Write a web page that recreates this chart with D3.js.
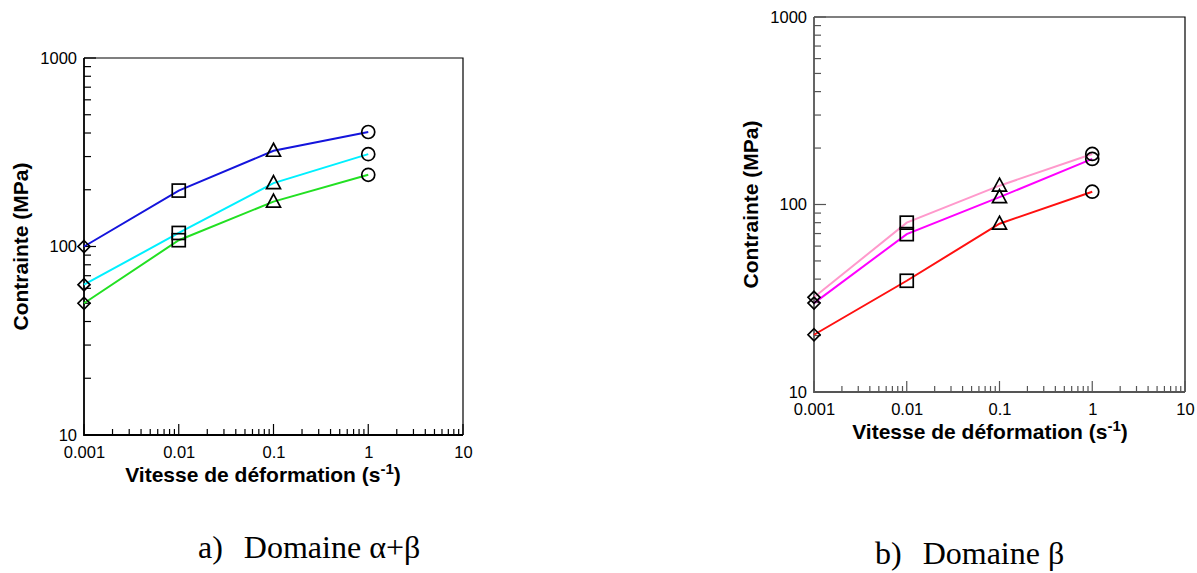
<!DOCTYPE html>
<html><head><meta charset="utf-8">
<script src="https://cdn.jsdelivr.net/npm/d3@7/dist/d3.min.js"></script>
<style>
body{margin:0;background:#fff;}
svg{display:block;}
</style></head>
<body>
<svg id="chart" width="1197" height="573" font-family="Liberation Sans, Arial, sans-serif"></svg>
<script>
// ---- data ----
const strainRates = [0.001, 0.01, 0.1, 1];
const markerShapes = ["diamond", "square", "triangle", "circle"];
const xTickValues = [0.001, 0.01, 0.1, 1, 10];
const xTickLabels = ["0.001", "0.01", "0.1", "1", "10"];
const yTickValues = [10, 100, 1000];
const yTickLabels = ["10", "100", "1000"];

// Chart a) Domaine α+β
const alphaBetaBlue  = [100, 198, 322, 405];
const alphaBetaCyan  = [62.7, 118, 217, 309];
const alphaBetaGreen = [50, 108, 173, 240];
// Chart b) Domaine β
const betaPink    = [32, 80, 126, 186];
const betaMagenta = [29.8, 69.5, 109.5, 175];
const betaRed     = [20.2, 39.2, 79, 117];

const yTitle = "Contrainte (MPa)";
const xTitleMain = "Vitesse de déformation (s";
const xTitleSup = "-1";
const captionA = ["a)", "Domaine α+β"];
const captionB = ["b)", "Domaine β"];

const svg = d3.select("#chart");

function marker(g, shape, x, y) {
  let el;
  if (shape === "circle") {
    el = g.append("circle").attr("cx", x).attr("cy", y).attr("r", 6.5);
  } else if (shape === "square") {
    el = g.append("rect").attr("x", x - 6.5).attr("y", y - 6.5).attr("width", 13).attr("height", 13);
  } else if (shape === "triangle") {
    el = g.append("path").attr("d", `M${x},${y - 7.5}L${x + 7},${y + 5.5}L${x - 7},${y + 5.5}Z`);
  } else {
    el = g.append("path").attr("d", `M${x},${y - 6}L${x + 6},${y}L${x},${y + 6}L${x - 6},${y}Z`);
  }
  el.attr("fill", "none").attr("stroke", "#000").attr("stroke-width", 1.7);
}

function drawChart(cfg) {
  const {left, top, right, bottom, series, axisColor} = cfg;
  const x = d3.scaleLog().domain([0.001, 10]).range([left, right]);
  const y = d3.scaleLog().domain([10, 1000]).range([bottom, top]);
  const g = svg.append("g");

  // frame (top/right)
  g.append("path").attr("d", `M${left},${top}H${right}V${bottom}`)
    .attr("fill", "none").attr("stroke", "#000").attr("stroke-width", 1.2);

  // minor ticks
  const minorX = [];
  for (let d = 0.001; d < 10; d *= 10) for (let k = 2; k <= 9; k++) minorX.push(+(d * k).toPrecision(3));
  const minorY = [];
  for (let d = 10; d < 1000; d *= 10) for (let k = 2; k <= 9; k++) minorY.push(d * k);

  const xAxis = d3.axisBottom(x).tickValues(xTickValues).tickFormat((d, i) => xTickLabels[i]).tickSize(0).tickPadding(11);
  const xa = g.append("g").attr("transform", `translate(0,${bottom})`).call(xAxis);
  xa.select(".domain").remove();
  xa.attr("font-family", null).attr("font-size", 16.5);
  xa.selectAll("text").attr("fill", "#000");

  const yAxis = d3.axisLeft(y).tickValues(yTickValues).tickFormat((d, i) => yTickLabels[i]).tickSize(0).tickPadding(7);
  const ya = g.append("g").attr("transform", `translate(${left},0)`).call(yAxis);
  ya.select(".domain").remove();
  ya.attr("font-family", null).attr("font-size", 16.5);
  ya.selectAll("text").attr("fill", "#000");

  // inward ticks
  const tk = g.append("g").attr("stroke", axisColor).attr("stroke-width", 1.2);
  xTickValues.forEach(v => tk.append("line").attr("x1", x(v)).attr("x2", x(v)).attr("y1", bottom).attr("y2", bottom - 11));
  minorX.forEach(v => tk.append("line").attr("x1", x(v)).attr("x2", x(v)).attr("y1", bottom).attr("y2", bottom - 6));
  yTickValues.forEach(v => tk.append("line").attr("y1", y(v)).attr("y2", y(v)).attr("x1", left).attr("x2", left + 12));
  minorY.forEach(v => tk.append("line").attr("y1", y(v)).attr("y2", y(v)).attr("x1", left).attr("x2", left + 7));

  // axis lines (left, bottom)
  g.append("path").attr("d", `M${left},${top}V${bottom}H${right}`)
    .attr("fill", "none").attr("stroke", axisColor).attr("stroke-width", 1.8);

  // series lines
  const line = d3.line().x((d, i) => x(strainRates[i])).y(d => y(d));
  series.forEach(s => {
    g.append("path").datum(s.values).attr("d", line)
      .attr("fill", "none").attr("stroke", s.color).attr("stroke-width", 2);
  });
  series.forEach(s => {
    s.values.forEach((v, i) => marker(g, markerShapes[i], x(strainRates[i]), y(v)));
  });

  // axis titles
  const cy = (top + bottom) / 2;
  g.append("text").attr("transform", `translate(${left - 56},${cy}) rotate(-90)`)
    .attr("text-anchor", "middle").attr("font-weight", "bold").attr("font-size", 21).text(yTitle);
  const xt = g.append("text").attr("x", cfg.xTitleX).attr("y", bottom + 47)
    .attr("text-anchor", "middle").attr("font-weight", "bold").attr("font-size", 21);
  xt.append("tspan").text(xTitleMain);
  xt.append("tspan").attr("dy", -8).attr("font-size", 15).text(xTitleSup);
  xt.append("tspan").attr("dy", 8).text(")");

  // caption
  const cap = svg.append("text").attr("x", cfg.capX).attr("y", cfg.capY)
    .attr("font-family", "Liberation Serif, Times New Roman, serif").attr("font-size", 32);
  cap.append("tspan").text(cfg.caption[0]);
  cap.append("tspan").attr("dx", 21).text(cfg.caption[1]);
}

drawChart({
  left: 84, top: 58, right: 463, bottom: 435, axisColor: "#000",
  xTitleX: 263, capX: 198, capY: 558, caption: captionA,
  series: [
    {values: alphaBetaBlue, color: "#1414dc"},
    {values: alphaBetaCyan, color: "#00f0ff"},
    {values: alphaBetaGreen, color: "#22e022"}
  ]
});
drawChart({
  left: 814, top: 17, right: 1185, bottom: 392, axisColor: "#555",
  xTitleX: 990, capX: 875, capY: 564, caption: captionB,
  series: [
    {values: betaPink, color: "#ff99cc"},
    {values: betaMagenta, color: "#ff00ff"},
    {values: betaRed, color: "#ff1010"}
  ]
});
</script>
</body></html>
